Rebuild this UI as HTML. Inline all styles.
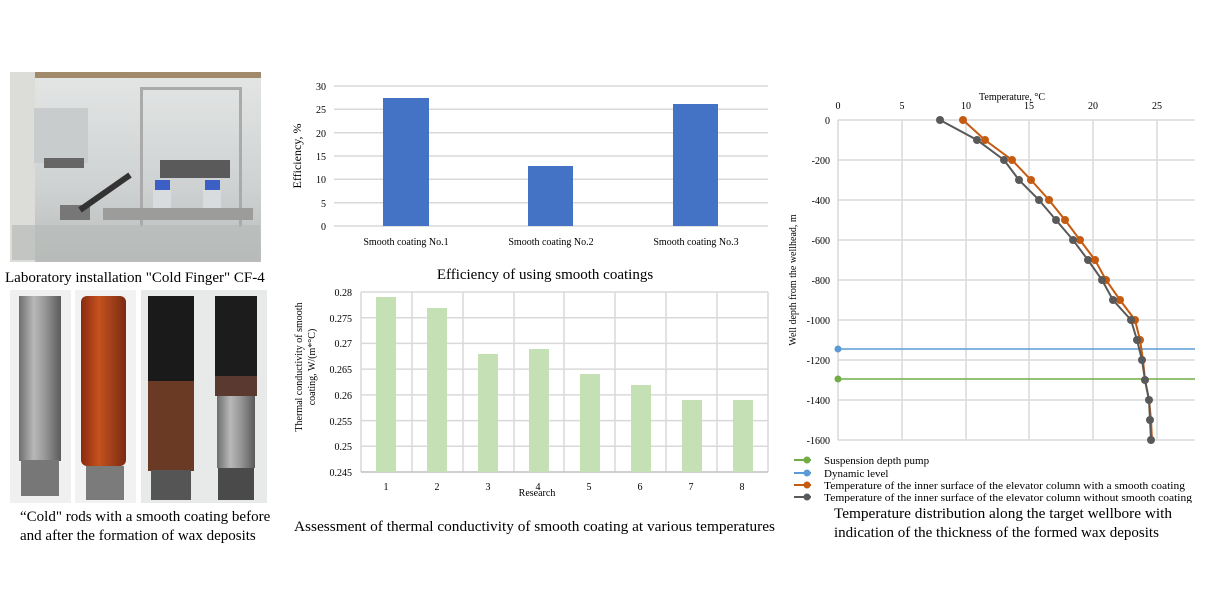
<!DOCTYPE html>
<html><head><meta charset="utf-8"><style>
body{margin:0;background:#fff;}
svg{display:block;font-family:"Liberation Serif",serif;}
</style></head><body>
<svg width="1221" height="601" viewBox="0 0 1221 601" xmlns="http://www.w3.org/2000/svg">
<defs>
<linearGradient id="steel" x1="0" x2="1"><stop offset="0" stop-color="#6e6e6e"/><stop offset=".35" stop-color="#b8b8b8"/><stop offset=".6" stop-color="#9a9a9a"/><stop offset="1" stop-color="#5a5a5a"/></linearGradient>
<linearGradient id="red" x1="0" x2="1"><stop offset="0" stop-color="#8a2a10"/><stop offset=".4" stop-color="#c4521f"/><stop offset="1" stop-color="#7a2a12"/></linearGradient>
<linearGradient id="lab" x1="0" y1="0" x2="0" y2="1"><stop offset="0" stop-color="#e4e6e6"/><stop offset=".6" stop-color="#cfd2d2"/><stop offset="1" stop-color="#b9bcbb"/></linearGradient>
</defs>
<!-- top photo -->
<rect x="10" y="72" width="251" height="190" fill="url(#lab)"/>
<rect x="10" y="72" width="251" height="6" fill="#a08a6a"/>
<rect x="10" y="72" width="25" height="190" fill="#dcdcd8"/>
<rect x="34" y="108" width="54" height="55" fill="#c9cccc"/>
<rect x="44" y="158" width="40" height="10" fill="#666"/>
<rect x="140" y="87" width="102" height="3" fill="#aaa"/>
<rect x="140" y="87" width="3" height="140" fill="#aaa"/>
<rect x="239" y="87" width="3" height="140" fill="#aaa"/>
<rect x="160" y="160" width="70" height="18" fill="#5a5a5a"/>
<rect x="155" y="180" width="15" height="10" fill="#3b5fc4"/>
<rect x="205" y="180" width="15" height="10" fill="#3b5fc4"/>
<rect x="153" y="190" width="18" height="25" fill="#d8dcde"/>
<rect x="203" y="190" width="18" height="25" fill="#d8dcde"/>
<rect x="103" y="208" width="150" height="12" fill="#9c9c9a"/>
<rect x="60" y="205" width="30" height="15" fill="#777"/>
<line x1="80" y1="210" x2="130" y2="175" stroke="#333" stroke-width="6"/>
<rect x="12" y="225" width="248" height="35" fill="#b7bab8" opacity=".7"/>
<text x="5" y="282" font-size="15">Laboratory installation "Cold Finger" CF-4</text>
<!-- rods -->
<rect x="10" y="290" width="61" height="213" fill="#f0f0f0"/>
<rect x="19" y="296" width="42" height="165" fill="url(#steel)"/>
<rect x="21" y="460" width="38" height="36" fill="#777"/>
<rect x="75" y="290" width="61" height="213" fill="#f2f2f2"/>
<rect x="81" y="296" width="45" height="170" rx="6" fill="url(#red)"/>
<rect x="86" y="466" width="38" height="34" fill="#7b7b7b"/>
<rect x="141" y="290" width="126" height="213" fill="#e8eaea"/>
<rect x="148" y="296" width="46" height="85" fill="#1a1a1a"/>
<rect x="148" y="381" width="46" height="90" fill="#6a3a25"/>
<rect x="151" y="470" width="40" height="30" fill="#555"/>
<rect x="215" y="296" width="42" height="80" fill="#1c1c1c"/>
<rect x="215" y="376" width="42" height="20" fill="#5a3a30"/>
<rect x="217" y="396" width="38" height="72" fill="url(#steel)"/>
<rect x="218" y="468" width="36" height="32" fill="#4a4a4a"/>
<text x="20" y="521" font-size="15">“Cold" rods with a smooth coating before</text>
<text x="20" y="540" font-size="15">and after the formation of wax deposits</text>

<!-- efficiency chart -->
<g stroke="#d9d9d9" stroke-width="1.5">
<line x1="334" y1="86" x2="768" y2="86"/><line x1="334" y1="109.3" x2="768" y2="109.3"/><line x1="334" y1="132.7" x2="768" y2="132.7"/><line x1="334" y1="156" x2="768" y2="156"/><line x1="334" y1="179.3" x2="768" y2="179.3"/><line x1="334" y1="202.7" x2="768" y2="202.7"/><line x1="334" y1="226" x2="768" y2="226"/>
</g>
<g fill="#4472c4"><rect x="383" y="98" width="46" height="128"/><rect x="528" y="166" width="45" height="60"/><rect x="673" y="104" width="45" height="122"/></g>
<g font-size="10" text-anchor="end"><text x="326" y="90">30</text><text x="326" y="113">25</text><text x="326" y="137">20</text><text x="326" y="160">15</text><text x="326" y="183">10</text><text x="326" y="207">5</text><text x="326" y="230">0</text></g>
<text transform="translate(301,156) rotate(-90)" font-size="12" text-anchor="middle">Efficiency, %</text>
<g font-size="10" text-anchor="middle"><text x="406" y="245">Smooth coating No.1</text><text x="551" y="245">Smooth coating No.2</text><text x="696" y="245">Smooth coating No.3</text></g>
<text x="545" y="279" font-size="15" text-anchor="middle">Efficiency of using smooth coatings</text>

<!-- thermal conductivity chart -->
<g stroke="#d9d9d9" stroke-width="1.5">
<line x1="361" y1="292" x2="768" y2="292"/><line x1="361" y1="317.7" x2="768" y2="317.7"/><line x1="361" y1="343.4" x2="768" y2="343.4"/><line x1="361" y1="369.1" x2="768" y2="369.1"/><line x1="361" y1="394.9" x2="768" y2="394.9"/><line x1="361" y1="420.6" x2="768" y2="420.6"/><line x1="361" y1="446.3" x2="768" y2="446.3"/>
<line x1="361" y1="292" x2="361" y2="472"/><line x1="412" y1="292" x2="412" y2="472"/><line x1="463" y1="292" x2="463" y2="472"/><line x1="514" y1="292" x2="514" y2="472"/><line x1="564" y1="292" x2="564" y2="472"/><line x1="615" y1="292" x2="615" y2="472"/><line x1="666" y1="292" x2="666" y2="472"/><line x1="717" y1="292" x2="717" y2="472"/><line x1="768" y1="292" x2="768" y2="472"/>
</g>
<line x1="361" y1="472" x2="768" y2="472" stroke="#bfbfbf" stroke-width="1.5"/>
<g fill="#c5e0b4">
<rect x="376" y="297" width="20" height="175"/><rect x="427" y="308" width="20" height="164"/><rect x="478" y="354" width="20" height="118"/><rect x="529" y="349" width="20" height="123"/><rect x="580" y="374" width="20" height="98"/><rect x="631" y="385" width="20" height="87"/><rect x="682" y="400" width="20" height="72"/><rect x="733" y="400" width="20" height="72"/>
</g>
<g font-size="10" text-anchor="end"><text x="352" y="296">0.28</text><text x="352" y="322">0.275</text><text x="352" y="347">0.27</text><text x="352" y="373">0.265</text><text x="352" y="399">0.26</text><text x="352" y="425">0.255</text><text x="352" y="450">0.25</text><text x="352" y="476">0.245</text></g>
<g font-size="10" text-anchor="middle"><text x="386" y="490">1</text><text x="437" y="490">2</text><text x="488" y="490">3</text><text x="538" y="490">4</text><text x="589" y="490">5</text><text x="640" y="490">6</text><text x="691" y="490">7</text><text x="742" y="490">8</text><text x="537" y="496">Research</text></g>
<text transform="translate(302,367) rotate(-90)" font-size="10" text-anchor="middle">Thermal conductivity of smooth</text>
<text transform="translate(315,367) rotate(-90)" font-size="10" text-anchor="middle">coating, W/(m*°C)</text>
<text x="294" y="531" font-size="15" textLength="481" lengthAdjust="spacingAndGlyphs">Assessment of thermal conductivity of smooth coating at various temperatures</text>

<!-- temperature chart -->
<g stroke="#d9d9d9" stroke-width="1.5">
<line x1="838" y1="120" x2="1195" y2="120"/><line x1="838" y1="160" x2="1195" y2="160"/><line x1="838" y1="200" x2="1195" y2="200"/><line x1="838" y1="240" x2="1195" y2="240"/><line x1="838" y1="280" x2="1195" y2="280"/><line x1="838" y1="320" x2="1195" y2="320"/><line x1="838" y1="360" x2="1195" y2="360"/><line x1="838" y1="400" x2="1195" y2="400"/><line x1="838" y1="440" x2="1195" y2="440"/>
<line x1="838" y1="120" x2="838" y2="440"/><line x1="902" y1="120" x2="902" y2="440"/><line x1="966" y1="120" x2="966" y2="440"/><line x1="1029" y1="120" x2="1029" y2="440"/><line x1="1093" y1="120" x2="1093" y2="440"/><line x1="1157" y1="120" x2="1157" y2="440"/>
</g>
<g font-size="10" text-anchor="middle"><text x="838" y="109">0</text><text x="902" y="109">5</text><text x="966" y="109">10</text><text x="1029" y="109">15</text><text x="1093" y="109">20</text><text x="1157" y="109">25</text><text x="1012" y="100">Temperature, °C</text></g>
<g font-size="10" text-anchor="end"><text x="830" y="124">0</text><text x="830" y="164">-200</text><text x="830" y="204">-400</text><text x="830" y="244">-600</text><text x="830" y="284">-800</text><text x="830" y="324">-1000</text><text x="830" y="364">-1200</text><text x="830" y="404">-1400</text><text x="830" y="444">-1600</text></g>
<text transform="translate(796,280) rotate(-90)" font-size="10" text-anchor="middle">Well depth from the wellhead, m</text>
<line x1="838" y1="349" x2="1195" y2="349" stroke="#5b9bd5" stroke-width="1.5"/><circle cx="838" cy="349" r="3.5" fill="#5b9bd5"/>
<line x1="838" y1="379" x2="1195" y2="379" stroke="#70ad47" stroke-width="1.5"/><circle cx="838" cy="379" r="3.5" fill="#70ad47"/>
<polyline fill="none" stroke="#c55a11" stroke-width="2" points="963,120 985,140 1012,160 1031,180 1049,200 1065,220 1080,240 1095,260 1106,280 1120,300 1135,320 1140,340 1143,360 1145,380 1149,400 1151,420 1152,440"/>
<g fill="#c55a11"><circle cx="963" cy="120" r="4"/><circle cx="985" cy="140" r="4"/><circle cx="1012" cy="160" r="4"/><circle cx="1031" cy="180" r="4"/><circle cx="1049" cy="200" r="4"/><circle cx="1065" cy="220" r="4"/><circle cx="1080" cy="240" r="4"/><circle cx="1095" cy="260" r="4"/><circle cx="1106" cy="280" r="4"/><circle cx="1120" cy="300" r="4"/><circle cx="1135" cy="320" r="4"/><circle cx="1140" cy="340" r="4"/></g>
<polyline fill="none" stroke="#595959" stroke-width="2" points="940,120 977,140 1004,160 1019,180 1039,200 1056,220 1073,240 1088,260 1102,280 1113,300 1131,320 1137,340 1142,360 1145,380 1149,400 1150,420 1151,440"/>
<g fill="#595959"><circle cx="940" cy="120" r="4"/><circle cx="977" cy="140" r="4"/><circle cx="1004" cy="160" r="4"/><circle cx="1019" cy="180" r="4"/><circle cx="1039" cy="200" r="4"/><circle cx="1056" cy="220" r="4"/><circle cx="1073" cy="240" r="4"/><circle cx="1088" cy="260" r="4"/><circle cx="1102" cy="280" r="4"/><circle cx="1113" cy="300" r="4"/><circle cx="1131" cy="320" r="4"/><circle cx="1137" cy="340" r="4"/><circle cx="1142" cy="360" r="4"/><circle cx="1145" cy="380" r="4"/><circle cx="1149" cy="400" r="4"/><circle cx="1150" cy="420" r="4"/><circle cx="1151" cy="440" r="4"/></g>
<g font-size="11">
<line x1="794" y1="460" x2="811" y2="460" stroke="#70ad47" stroke-width="2"/><circle cx="807" cy="460" r="3.5" fill="#70ad47"/><text x="824" y="464">Suspension depth pump</text>
<line x1="794" y1="473" x2="811" y2="473" stroke="#5b9bd5" stroke-width="2"/><circle cx="807" cy="473" r="3.5" fill="#5b9bd5"/><text x="824" y="477">Dynamic level</text>
<line x1="794" y1="485" x2="811" y2="485" stroke="#c55a11" stroke-width="2"/><circle cx="807" cy="485" r="3.5" fill="#c55a11"/><text x="824" y="489" textLength="361" lengthAdjust="spacingAndGlyphs">Temperature of the inner surface of the elevator column with a smooth coating</text>
<line x1="794" y1="497" x2="811" y2="497" stroke="#595959" stroke-width="2"/><circle cx="807" cy="497" r="3.5" fill="#595959"/><text x="824" y="501" textLength="368" lengthAdjust="spacingAndGlyphs">Temperature of the inner surface of the elevator column without smooth coating</text>
</g>
<rect x="780" y="503" width="420" height="6" fill="#fff"/>
<text x="834" y="518" font-size="15" textLength="338" lengthAdjust="spacingAndGlyphs">Temperature distribution along the target wellbore with</text>
<text x="834" y="537" font-size="15">indication of the thickness of the formed wax deposits</text>
</svg>
</body></html>
